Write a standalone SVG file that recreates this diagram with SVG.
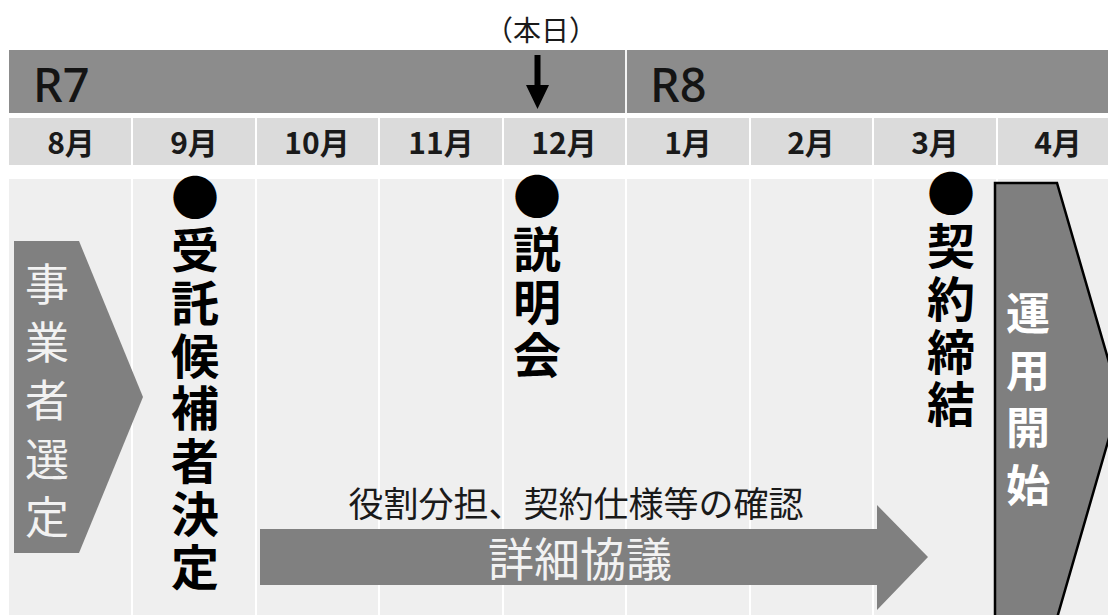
<svg xmlns="http://www.w3.org/2000/svg" width="1108" height="615" viewBox="0 0 1108 615">
<style>
.jp{font-family:"Noto Sans CJK JP","Noto Sans",sans-serif}
.year{font-family:"Noto Sans","Liberation Sans",sans-serif;font-size:47px;font-weight:500;fill:#141414}
.month{font-family:"Noto Sans CJK JP",sans-serif;font-size:30px;font-weight:bold;fill:#1a1a1a;text-anchor:middle}
.mcell{fill:#dbdbdb}
.col{fill:#efefef}
.vb{font-family:"Noto Sans CJK JP",sans-serif;font-size:48px;font-weight:bold;fill:#000;writing-mode:vertical-rl;letter-spacing:4.8px}
.vw{font-family:"Noto Sans CJK JP",sans-serif;font-size:44px;fill:#f2f2f2;writing-mode:vertical-rl}
.vw.start{fill:#ffffff;font-weight:bold}
.shape{fill:#808080}
</style>
<rect width="1108" height="615" fill="#ffffff"/>
<g id="year-bar">
<rect x="9" y="50" width="1099" height="63" fill="#8c8c8c"/>
<rect x="625" y="50" width="2" height="63" fill="#f4f4f4"/>
<text class="year" x="33" y="102">R7</text>
<text class="year" x="650" y="102">R8</text>
</g>
<g id="months">
<rect class="mcell" x="9" y="118" width="122" height="47"/>
<rect class="mcell" x="133" y="118" width="122" height="47"/>
<rect class="mcell" x="257" y="118" width="121" height="47"/>
<rect class="mcell" x="380" y="118" width="122" height="47"/>
<rect class="mcell" x="504" y="118" width="121" height="47"/>
<rect class="mcell" x="627" y="118" width="122" height="47"/>
<rect class="mcell" x="751" y="118" width="121" height="47"/>
<rect class="mcell" x="874" y="118" width="122" height="47"/>
<rect class="mcell" x="998" y="118" width="110" height="47"/>
<text class="month" x="71" y="154">8月</text>
<text class="month" x="194" y="154">9月</text>
<text class="month" x="317" y="154">10月</text>
<text class="month" x="441" y="154">11月</text>
<text class="month" x="564" y="154">12月</text>
<text class="month" x="688" y="154">1月</text>
<text class="month" x="811" y="154">2月</text>
<text class="month" x="935" y="154">3月</text>
<text class="month" x="1058" y="154">4月</text>
</g>
<g id="columns">
<rect class="col" x="9" y="179" width="122" height="436"/>
<rect class="col" x="133" y="179" width="122" height="436"/>
<rect class="col" x="257" y="179" width="121" height="436"/>
<rect class="col" x="380" y="179" width="122" height="436"/>
<rect class="col" x="504" y="179" width="121" height="436"/>
<rect class="col" x="627" y="179" width="122" height="436"/>
<rect class="col" x="751" y="179" width="121" height="436"/>
<rect class="col" x="874" y="179" width="122" height="436"/>
<rect class="col" x="998" y="179" width="110" height="436"/>
</g>
<g id="today">
<text class="jp" x="541" y="41" font-size="28" fill="#1a1a1a" text-anchor="middle">（本日）</text>
</g>
<g id="connectors">
<path d="M534.5 55 H540.5 V85 H549 L537.5 109 L526 85 H534.5 Z" fill="#000"/>
</g>
<g id="node-jigyosha-sentei">
<polygon class="shape" points="14,241 79,241 143,397 79,553 14,553"/>
<text class="vw" x="47" y="262" letter-spacing="14.3">事業者選定</text>
</g>
<g id="node-jutaku">
<text class="vb" x="195" y="173">●受託候補者決定</text>
</g>
<g id="node-setsumeikai">
<text class="vb" x="537" y="172">●説明会</text>
</g>
<g id="node-keiyaku">
<text class="vb" x="951" y="169" letter-spacing="4.5">●契約締結</text>
</g>
<g id="node-shosai-kyogi">
<text class="jp" x="576" y="517" font-size="35" fill="#1a1a1a" text-anchor="middle">役割分担、契約仕様等の確認</text>
<polygon class="shape" points="260,529 877,529 877,505 928,557 877,610 877,585 260,585"/>
<text class="jp" x="580" y="576" font-size="46" fill="#f2f2f2" text-anchor="middle">詳細協議</text>
</g>
<g id="node-unyo-kaishi">
<polygon points="995,183 1057,183 1120,400 1057,618 995,618" fill="#7f7f7f" stroke="#000" stroke-width="2.5"/>
<text class="vw start" x="1028" y="291" letter-spacing="13.3">運用開始</text>
</g>
</svg>
